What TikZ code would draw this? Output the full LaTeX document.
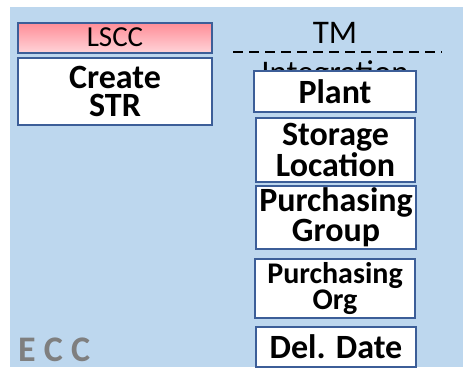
\documentclass[tikz,border=0pt]{standalone}
\usepackage{fontspec}
\setmainfont{Carlito}
\usepackage{tikz}
\definecolor{ecsBlue}{HTML}{BDD7EE}
\definecolor{boxEdge}{HTML}{3C5E98}
\definecolor{pinkTop}{HTML}{FF8C96}
\definecolor{pinkBot}{HTML}{FFD3D8}
\definecolor{eccGray}{HTML}{7F7F7F}
\tikzstyle{fieldBox}=[shape = rectangle, draw = boxEdge, line width = 2pt, fill = white, align = center, inner sep = 0pt]
\tikzstyle{bigBold}=[font = \fontsize{34}{28.5}\selectfont\bfseries]

\begin{document}
\begin{tikzpicture}[x = 1pt, y = -1pt]
\tikzstyle{headBox}=[fieldBox, top color = pinkTop, bottom color = pinkBot, font = \fontsize{29}{29}\selectfont]
\tikzstyle{plainText}=[inner sep = 0pt, anchor = base, font = \fontsize{33}{33}\selectfont]
\useasboundingbox (0,0) rectangle (463,367);
\fill[ecsBlue] (10,7) rectangle (463,367);
\node[headBox, minimum width = 194pt, minimum height = 30pt] (lscc) at (115,37.5) {LSCC};
\node[fieldBox, bigBold, minimum width = 194pt, minimum height = 67pt] (createStr) at (115,91.5) {Create\\STR};
\node[plainText] (tm) at (335,43) {TM};
\coordinate (sepL) at (233,52);
\coordinate (sepR) at (442,52);
\draw[line width = 2pt, dash pattern = on 10pt off 6pt] (sepL) -- (sepR);
\node[plainText] (integration) at (335,83) {Integration};
\node[fieldBox, bigBold, minimum width = 162pt, minimum height = 41pt] (plant) at (335,91.5) {Plant};
\node[fieldBox, bigBold, minimum width = 159pt, minimum height = 64pt] (storageLoc) at (335.5,150) {Storage\\Location};
\node[fieldBox, bigBold, font = \fontsize{34}{30}\selectfont\bfseries, minimum width = 160pt, minimum height = 63pt] (purchGroup) at (336,217.5) {Purchasing\\Group};
\node[fieldBox, font = \fontsize{30}{26.5}\selectfont\bfseries, minimum width = 160pt, minimum height = 59pt] (purchOrg) at (335,288.5) {Purchasing\\Org};
\node[fieldBox, bigBold, minimum width = 160pt, minimum height = 40pt] (delDate) at (336,346.5) {Del. Date};
\node[inner sep = 0pt, anchor = base west, text = eccGray, font = \fontsize{36}{36}\selectfont\bfseries] (ecc) at (18,361) {E C C};
\end{tikzpicture}
\end{document}
